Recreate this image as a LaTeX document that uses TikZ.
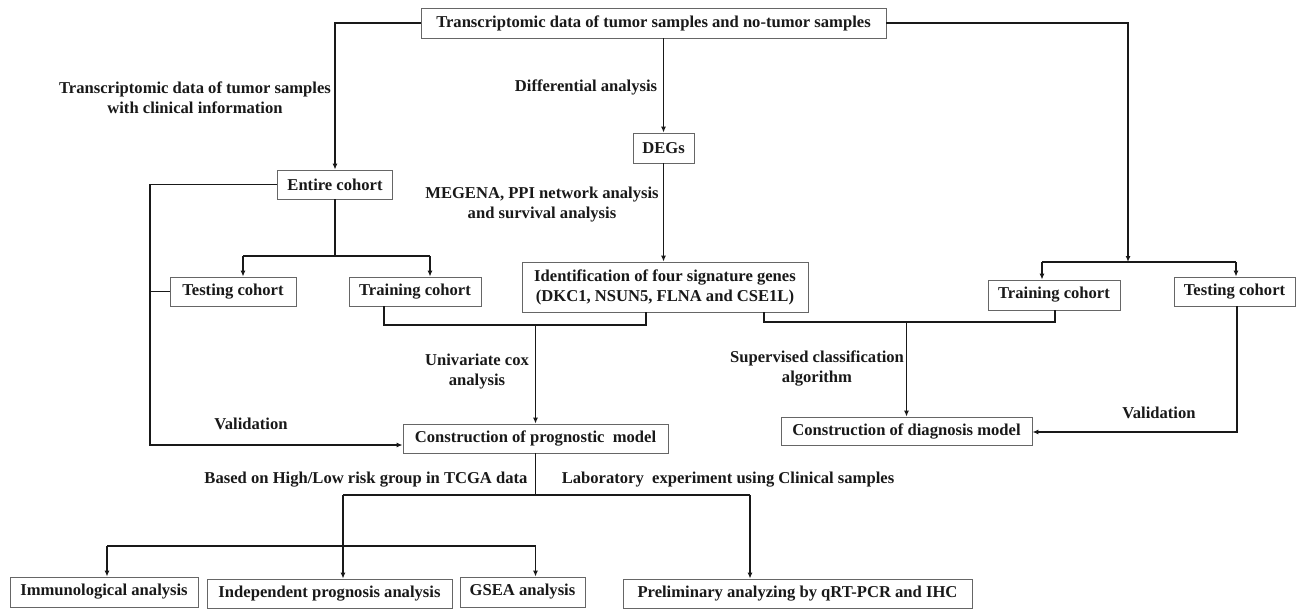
\documentclass[tikz,border=0pt]{standalone}
\usepackage{fontspec}
\setmainfont{Liberation Serif}
\usetikzlibrary{arrows.meta}
\begin{document}
\begin{tikzpicture}[x=1pt,y=-1pt,
  font=\fontsize{16.6}{20}\selectfont\bfseries,
  box/.style={draw=black!60, line width=0.8pt, fill=white, inner sep=0pt, align=center, text=black!90},
  lbl/.style={align=center, inner sep=0pt, text=black!90},
  conn/.style={line width=1.4pt, draw=black!90},
  arr/.style={conn, -{Latex[length=6pt,width=5pt]}}]
\useasboundingbox (0,0) rectangle (1296,611);
% boxes
\node[box, minimum width=465pt, minimum height=30pt] (top) at (653.5,23) {Transcriptomic data of tumor samples and no-tumor samples};
\node[box, minimum width=61pt, minimum height=30pt] (DEGs) at (663.5,148) {DEGs};
\node[box, minimum width=115pt, minimum height=29pt] (entire) at (335,184.5) {Entire cohort};
\node[box, minimum width=126pt, minimum height=29pt] (testL) at (233,291.5) {Testing cohort};
\node[box, minimum width=132pt, minimum height=29pt] (trainL) at (415,291.5) {Training cohort};
\node[box, minimum width=286pt, minimum height=50pt] (ident) at (665,287) {Identification of four signature genes\\(DKC1, NSUN5, FLNA and CSE1L)};
\node[box, minimum width=132pt, minimum height=30pt] (trainR) at (1054,295) {Training cohort};
\node[box, minimum width=121pt, minimum height=29pt] (testR) at (1234.5,291.5) {Testing cohort};
\node[box, minimum width=265pt, minimum height=29pt] (prog) at (535.5,438.5) {Construction of prognostic\ \ model};
\node[box, minimum width=251pt, minimum height=28pt] (diag) at (906.5,431) {Construction of diagnosis model};
\node[box, minimum width=188pt, minimum height=30pt] (immu) at (104,592) {Immunological analysis};
\node[box, minimum width=245pt, minimum height=29pt] (indep) at (329.5,593.5) {Independent prognosis analysis};
\node[box, minimum width=125pt, minimum height=30pt] (gsea) at (522.5,592) {GSEA analysis};
\node[box, minimum width=349pt, minimum height=29pt] (prelim) at (797.5,593.5) {Preliminary analyzing by qRT-PCR and IHC};
% labels
\node[lbl] (l1) at (195,98) {Transcriptomic data of tumor samples\\with clinical information};
\node[lbl] (l2) at (586,87) {Differential analysis};
\node[lbl] (l3) at (542,205) {MEGENA, PPI network analysis\\and survival analysis};
\node[lbl] (l4) at (477,372) {Univariate cox\\analysis};
\node[lbl] (l5) at (251,424) {Validation};
\node[lbl] (l6) at (817,368) {Supervised classification\\algorithm};
\node[lbl] (l7) at (1159,413) {Validation};
\node[lbl] (l8) at (366,480) {Based on High/Low risk group in TCGA data};
\node[lbl] (l9) at (728,480) {Laboratory\ \ experiment using Clinical samples};
% coordinates
\coordinate (rb) at (1128,262);
\coordinate (rbl) at (1042,262);
\coordinate (rbr) at (1236,262);
\coordinate (lbl) at (243,256);
\coordinate (lbr) at (430,256);
\coordinate (fb) at (150,445);
\coordinate (j1l) at (384,325);
\coordinate (j1r) at (646,325);
\coordinate (j1m) at (535.5,325);
\coordinate (j2l) at (764,322);
\coordinate (j2r) at (1055,322);
\coordinate (j2m) at (906.5,322);
\coordinate (tv) at (1237,432);
\coordinate (b1l) at (343,495);
\coordinate (b1r) at (750,495);
\coordinate (b2l) at (107,546);
\coordinate (b2r) at (535.5,546);
% connectors
\draw[arr] (top.west) -| (entire.north);
\draw[arr] (top.south -| DEGs.north) -- (DEGs.north);
\draw[arr] (DEGs.south) -- (DEGs.south |- ident.north);
\draw[arr] (top.east) -| (rb);
\draw[conn] (rbl) -- (rbr);
\draw[arr] (rbl) -- (rbl |- trainR.north);
\draw[arr] (rbr) -- (rbr |- testR.north);
\draw[conn] (entire.south) -- (entire.south |- lbl);
\draw[conn] (lbl) -- (lbr);
\draw[arr] (lbl) -- (lbl |- testL.north);
\draw[arr] (lbr) -- (lbr |- trainL.north);
\draw[arr] (entire.west) -| (fb) -- (fb -| prog.west);
\draw[conn] (testL.west) -- (testL.west -| fb);
\draw[conn] (j1l |- trainL.south) -- (j1l) -- (j1r) -- (j1r |- ident.south);
\draw[arr] (j1m) -- (j1m |- prog.north);
\draw[conn] (j2l |- ident.south) -- (j2l) -- (j2r) -- (j2r |- trainR.south);
\draw[arr] (j2m) -- (j2m |- diag.north);
\draw[arr] (tv |- testR.south) -- (tv) -- (tv -| diag.east);
\draw[conn] (prog.south) -- (prog.south |- b1l);
\draw[conn] (b1l) -- (b1r);
\draw[arr] (b1l) -- (b1l |- indep.north);
\draw[arr] (b1r) -- (b1r |- prelim.north);
\draw[conn] (b2l) -- (b2r);
\draw[arr] (b2l) -- (b2l |- immu.north);
\draw[arr] (b2r) -- (b2r |- gsea.north);
\end{tikzpicture}
\end{document}
